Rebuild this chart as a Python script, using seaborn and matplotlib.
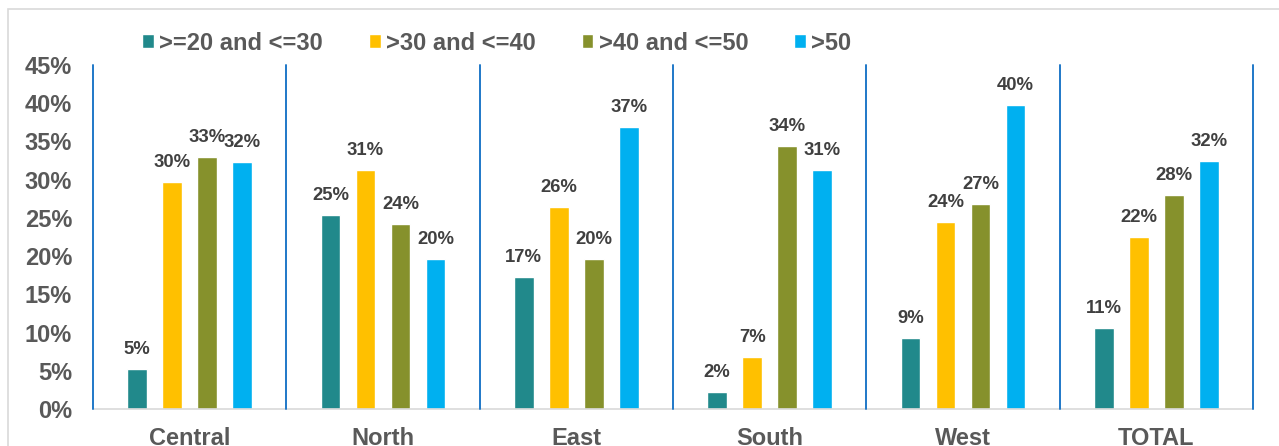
import matplotlib
matplotlib.use("Agg")
import matplotlib.pyplot as plt
from matplotlib.patches import Rectangle
import pandas as pd
import seaborn as sns

# Share of respondents by age band within each region
regions = ["Central", "North", "East", "South", "West", "TOTAL"]
age_bands = [">=20 and <=30", ">30 and <=40", ">40 and <=50", ">50"]
share_20_30 = [0.052, 0.254, 0.173, 0.022, 0.093, 0.106]
share_30_40 = [0.297, 0.312, 0.264, 0.068, 0.245, 0.225]
share_40_50 = [0.330, 0.242, 0.196, 0.344, 0.268, 0.280]
share_50_up = [0.323, 0.196, 0.369, 0.312, 0.398, 0.324]
band_colors = ["#21898B", "#FFC000", "#86912C", "#00B0F0"]
y_ticks = [0.0, 0.05, 0.10, 0.15, 0.20, 0.25, 0.30, 0.35, 0.40, 0.45]

series = [share_20_30, share_30_40, share_40_50, share_50_up]
rows = []
for band, vals in zip(age_bands, series):
    for region, v in zip(regions, vals):
        rows.append({"region": region, "age": band, "share": v})
df = pd.DataFrame(rows)

sns.set_theme(style="white")
plt.rcParams["font.family"] = ["Liberation Sans", "DejaVu Sans"]
plt.rcParams["font.weight"] = "bold"

W, H = 1279, 446
fig = plt.figure(figsize=(W / 100, H / 100), dpi=100)
fig.patch.set_facecolor("white")

# light frame around the chart area
fig.patches.append(Rectangle((8 / W, -0.2), 1.2, 1.2 - 9 / H,
                             transform=fig.transFigure, fill=False,
                             edgecolor="#D9D9D9", linewidth=1.2))

ax = fig.add_axes([93 / W, 1 - 409 / H, (1253 - 93) / W, (409 - 65) / H])

sns.barplot(data=df, x="region", y="share", hue="age", order=regions,
            hue_order=age_bands, palette=band_colors, width=0.724, gap=0.43,
            saturation=1, ax=ax, errorbar=None)

for cont in ax.containers:
    ax.bar_label(cont, fmt="{:.0%}", padding=8, fontsize=13.3,
                 fontweight="bold", color="#404040")

ax.set_ylim(0, 0.45)
ax.set_xlim(-0.5, len(regions) - 0.5)
ax.set_yticks(y_ticks)
ax.set_yticklabels([f"{t:.0%}" for t in y_ticks])
ax.tick_params(axis="y", length=0, pad=15, labelsize=17, labelcolor="#595959")
ax.tick_params(axis="x", length=0, pad=13, labelsize=17, labelcolor="#595959")
ax.set_xlabel("")
ax.set_ylabel("")

for side in ["top", "right", "left"]:
    ax.spines[side].set_visible(False)
ax.spines["bottom"].set_color("#D9D9D9")
ax.spines["bottom"].set_linewidth(1.2)

# vertical separators between regions
for i in range(len(regions) + 1):
    ax.axvline(i - 0.5, color="#1F78C8", linewidth=1.4, clip_on=False, zorder=3)

handles, labels = ax.get_legend_handles_labels()
ax.legend(handles, labels, loc="center left",
          bbox_to_anchor=(142 / W, 1 - 43 / H), bbox_transform=fig.transFigure,
          ncol=4, frameon=False, fontsize=17, labelcolor="#595959",
          handlelength=0.5, handleheight=0.5, handletextpad=0.22,
          columnspacing=1.95, borderpad=0, borderaxespad=0)

fig.savefig("out.png", dpi=100)
